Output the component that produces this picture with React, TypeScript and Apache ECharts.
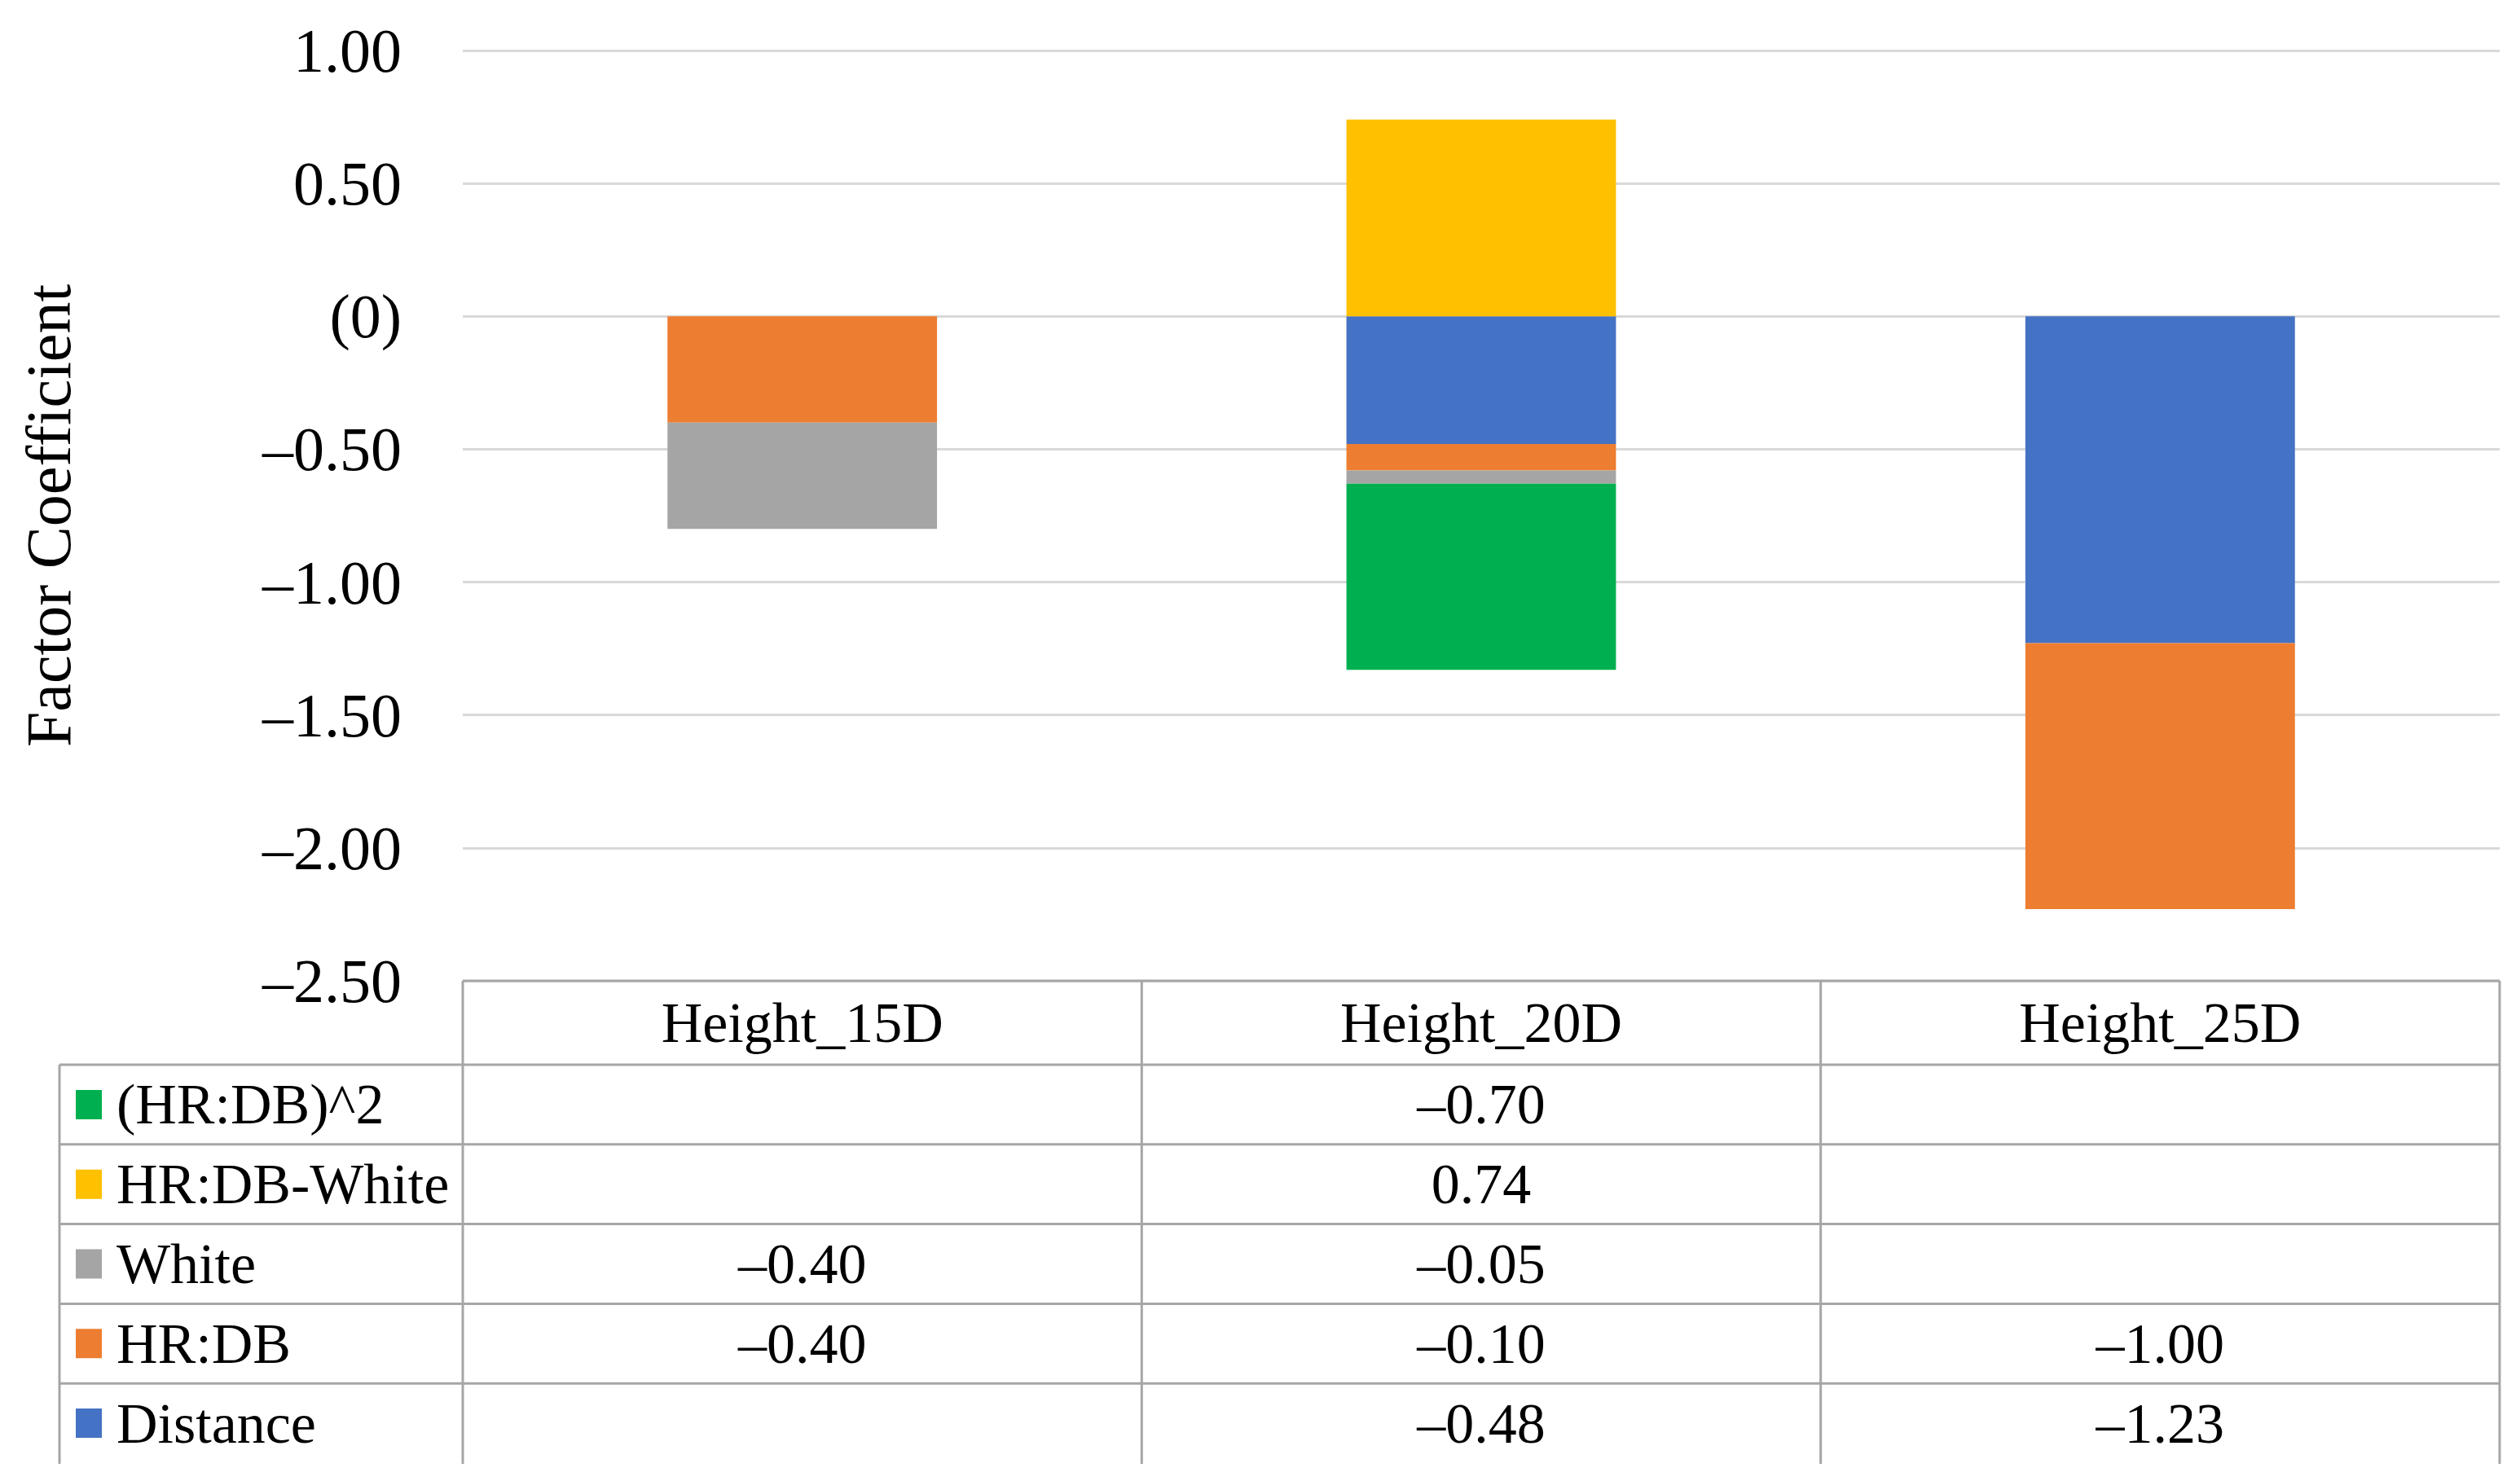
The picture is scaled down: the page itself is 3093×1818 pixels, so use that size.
import React, { useEffect, useRef } from "react";
import * as echarts from "echarts";

// ---- data ----
const categories = ["Height_15D", "Height_20D", "Height_25D"];
const distance = [null, -0.48, -1.23];
const hrDb = [-0.4, -0.1, -1.0];
const white = [-0.4, -0.05, null];
const hrDbWhite = [null, 0.74, null];
const hrDbSquared = [null, -0.7, null];
const seriesNames = ["Distance", "HR:DB", "White", "HR:DB-White", "(HR:DB)^2"];
const seriesColors = ["#4472C4", "#ED7D31", "#A5A5A5", "#FFC000", "#00B050"];
const yMin = -2.5;
const yMax = 1;
const yStep = 0.5;
const yTitle = "Factor Coefficient";

// ---- layout ----
const W = 3093;
const H = 1818;
const FONT = '"Liberation Serif", "Times New Roman", serif';
const plotLeft = 568;
const plotRight = 3068;
const plotTop = 62;
const plotBottom = 1204;
const tableLeft = 73;
const headerBottom = 1307;
const rowH = 97.8;
const tableBottom = 1797;
const tableFont = 70;
const lineColor = "#A6A6A6";

function fmt(v: number | null): string {
  if (v === null || v === undefined) return "";
  if (v === 0) return "(0)";
  if (v < 0) return "\u2013" + Math.abs(v).toFixed(2);
  return v.toFixed(2);
}

export default function App() {
  const ref = useRef<HTMLDivElement>(null);
  useEffect(() => {
    if (!ref.current) return;
    const chart = echarts.init(ref.current, undefined, { renderer: "svg" });
    const seriesData = [distance, hrDb, white, hrDbWhite, hrDbSquared];
    const tableOrder = [4, 3, 2, 1, 0];
    const colW = (plotRight - plotLeft) / categories.length;

    const graphics: any[] = [];
    const line = (x1: number, y1: number, x2: number, y2: number) =>
      graphics.push({
        type: "line",
        silent: true,
        z: 10,
        shape: { x1, y1, x2, y2 },
        style: { stroke: lineColor, lineWidth: 3 },
      });
    // top border of header
    line(plotLeft, plotBottom, plotRight, plotBottom);
    // row lines
    for (let i = 0; i <= tableOrder.length - 1; i++) {
      const y = headerBottom + i * rowH;
      line(tableLeft, y, plotRight, y);
    }
    // vertical lines
    line(tableLeft, headerBottom, tableLeft, tableBottom);
    for (let c = 0; c <= categories.length; c++) {
      const x = plotLeft + c * colW;
      line(x, plotBottom, x, tableBottom);
    }
    // rows
    tableOrder.forEach((si, r) => {
      const cy = headerBottom + r * rowH + rowH / 2;
      graphics.push({
        type: "rect",
        silent: true,
        z: 10,
        shape: { x: 93, y: cy - 18, width: 32, height: 36 },
        style: { fill: seriesColors[si] },
      });
      graphics.push({
        type: "text",
        silent: true,
        z: 10,
        x: 143,
        y: cy,
        style: {
          text: seriesNames[si],
          fontSize: tableFont,
          fontFamily: FONT,
          fill: "#000",
          align: "left",
          verticalAlign: "middle",
        },
      });
      seriesData[si].forEach((v, c) => {
        const t = fmt(v as number | null);
        if (!t) return;
        graphics.push({
          type: "text",
          silent: true,
          z: 10,
          x: plotLeft + (c + 0.5) * colW,
          y: cy,
          style: {
            text: t,
            fontSize: tableFont,
            fontFamily: FONT,
            fill: "#000",
            align: "center",
            verticalAlign: "middle",
          },
        });
      });
    });
    // y axis title
    graphics.push({
      type: "text",
      silent: true,
      x: 59,
      y: (plotTop + plotBottom) / 2,
      rotation: Math.PI / 2,
      style: {
        text: yTitle,
        fontSize: 78,
        fontFamily: FONT,
        fill: "#000",
        align: "center",
        verticalAlign: "middle",
      },
    });

    chart.setOption({
      animation: false,
      backgroundColor: "#ffffff",
      grid: {
        left: plotLeft,
        right: W - plotRight,
        top: plotTop,
        bottom: H - plotBottom,
      },
      xAxis: {
        type: "category",
        data: categories,
        axisLine: { show: false },
        axisTick: { show: false },
        axisLabel: {
          fontSize: tableFont,
          fontFamily: FONT,
          color: "#000",
          verticalAlign: "middle",
          margin: 51,
        },
      },
      yAxis: {
        type: "value",
        min: yMin,
        max: yMax,
        interval: yStep,
        axisLine: { show: false },
        axisTick: { show: false },
        splitLine: { lineStyle: { color: "#D9D9D9", width: 3 } },
        axisLabel: {
          fontSize: 76,
          fontFamily: FONT,
          color: "#000",
          margin: 75,
          formatter: (v: number) => fmt(Math.round(v * 100) / 100),
        },
      },
      series: seriesNames.map((name, i) => ({
        name,
        type: "bar",
        stack: "total",
        barWidth: "39.7%",
        itemStyle: { color: seriesColors[i] },
        data: seriesData[i],
      })),
      graphic: graphics,
    });
    return () => chart.dispose();
  }, []);
  return (
    <div
      ref={ref}
      style={{ position: "fixed", left: 0, top: 0, width: W + "px", height: H + "px", background: "#fff" }}
    />
  );
}
